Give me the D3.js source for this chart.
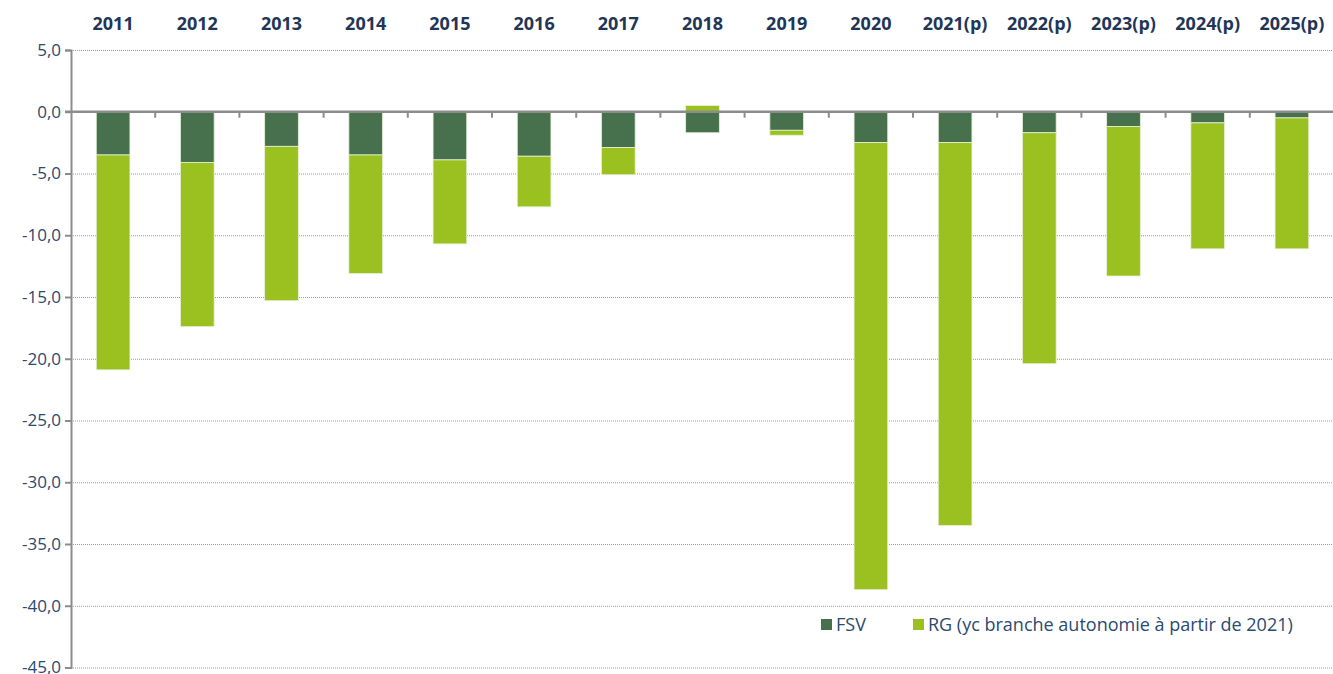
<!DOCTYPE html>
<html>
<head lang="fr">
    <meta charset="UTF-8">
    <script src="https://cdn.jsdelivr.net/npm/d3@7/dist/d3.min.js"></script>
    <style>
        body { margin: 0; background: #fff; }
        svg { display: block; font-family: "Open Sans", "Noto Sans", sans-serif; }
    </style>
</head>
<body>
<svg width="1333" height="674"></svg>
<script>
    // data
    var years = ['2011', '2012', '2013', '2014', '2015', '2016', '2017', '2018', '2019',
        '2020', '2021(p)', '2022(p)', '2023(p)', '2024(p)', '2025(p)'];
    var fsv = [-3.5, -4.1, -2.8, -3.5, -3.9, -3.6, -2.9, -1.7, -1.5, -2.5, -2.5, -1.7, -1.2, -0.9, -0.5];
    var rg = [-17.4, -13.3, -12.5, -9.6, -6.8, -4.1, -2.2, 0.5, -0.4, -36.2, -31.0, -18.7, -12.1, -10.2, -10.6];
    var yTicks = [5, 0, -5, -10, -15, -20, -25, -30, -35, -40, -45];
    var seriesNames = ['FSV', 'RG (yc branche autonomie à partir de 2021)'];

    var colors = {
        FSV: '#46714c',
        RG: '#9bc120',
        TEXT: '#2b4a6f',
        YEAR: '#1f3657',
        AXIS: '#8c8c8c',
        GRID: '#8d9bb0'
    };

    var svg = d3.select('svg');
    var plotLeft = 71, plotRight = 1334, plotTop = 50, plotBottom = 667.5;

    var x = d3.scaleBand().domain(years).range([plotLeft, plotRight]).paddingInner(0.6).paddingOuter(0.3);
    var y = d3.scaleLinear().domain([-45, 5]).range([plotBottom, plotTop]);

    var rows = years.map(function (yr, i) {
        return {year: yr, FSV: fsv[i], RG: rg[i]};
    });
    var stack = d3.stack().keys(['FSV', 'RG']).offset(d3.stackOffsetDiverging);
    var layers = stack(rows);

    var fr = d3.formatLocale({decimal: ',', thousands: ' ', grouping: [3], currency: ['', ' €'], minus: '-'});
    var fmt = fr.format('.1f');

    // gridlines (dotted)
    svg.append('g')
        .selectAll('line')
        .data(yTicks.filter(function (d) { return d !== 0; }))
        .enter()
        .append('line')
        .attr('x1', plotLeft)
        .attr('x2', plotRight)
        .attr('y1', function (d) { return y(d) + 0.5; })
        .attr('y2', function (d) { return y(d) + 0.5; })
        .attr('stroke', colors.GRID)
        .attr('stroke-width', 1)
        .attr('stroke-dasharray', '1,1');

    // bars
    svg.append('g')
        .selectAll('g')
        .data(layers)
        .enter()
        .append('g')
        .attr('fill', function (d) { return colors[d.key]; })
        .selectAll('rect')
        .data(function (d) { return d; })
        .enter()
        .append('rect')
        .attr('x', function (d) { return x(d.data.year); })
        .attr('width', x.bandwidth())
        .attr('y', function (d) { return y(Math.max(d[0], d[1])); })
        .attr('height', function (d) { return Math.abs(y(d[0]) - y(d[1])); })
        .attr('stroke', '#e6f0d8')
        .attr('stroke-width', 0.8);

    // y axis
    var yAxis = d3.axisLeft(y).tickValues(yTicks).tickFormat(fmt).tickSize(6).tickPadding(4);
    var gy = svg.append('g').attr('transform', 'translate(' + plotLeft + ',0)').call(yAxis);
    gy.select('.domain').attr('stroke', colors.AXIS).attr('stroke-width', 2);
    gy.selectAll('.tick line').attr('stroke', colors.AXIS).attr('stroke-width', 2);
    gy.selectAll('.tick text')
        .attr('fill', colors.TEXT)
        .style('font-size', '17px')
        .style('font-family', '"Open Sans", "Noto Sans", sans-serif');

    // zero line with category ticks
    var zero = svg.append('g');
    zero.append('line')
        .attr('x1', plotLeft - 6)
        .attr('x2', plotRight)
        .attr('y1', y(0))
        .attr('y2', y(0))
        .attr('stroke', colors.AXIS)
        .attr('stroke-width', 2.5);
    zero.selectAll('.cat-tick')
        .data(years.slice(1))
        .enter()
        .append('line')
        .attr('x1', function (d) { return x(d) - x.step() * x.paddingInner() / 2; })
        .attr('x2', function (d) { return x(d) - x.step() * x.paddingInner() / 2; })
        .attr('y1', y(0))
        .attr('y2', y(0) + 6)
        .attr('stroke', colors.AXIS)
        .attr('stroke-width', 2);

    // year labels on top
    svg.append('g')
        .selectAll('text')
        .data(years)
        .enter()
        .append('text')
        .attr('x', function (d) { return x(d) + x.bandwidth() / 2; })
        .attr('y', 30)
        .attr('text-anchor', 'middle')
        .attr('fill', colors.YEAR)
        .style('font-size', '18px')
        .style('font-weight', 'bold')
        .text(function (d) { return d; });

    // legend
    var legend = svg.append('g');
    var legendItems = [
        {name: seriesNames[0], color: colors.FSV, x: 821},
        {name: seriesNames[1], color: colors.RG, x: 913}
    ];
    legend.selectAll('rect')
        .data(legendItems)
        .enter()
        .append('rect')
        .attr('x', function (d) { return d.x; })
        .attr('y', 619)
        .attr('width', 11)
        .attr('height', 11)
        .attr('fill', function (d) { return d.color; });
    legend.selectAll('text')
        .data(legendItems)
        .enter()
        .append('text')
        .attr('x', function (d) { return d.x + 15; })
        .attr('y', 631)
        .attr('fill', colors.TEXT)
        .style('font-size', '18px')
        .text(function (d) { return d.name; });
</script>
</body>
</html>
